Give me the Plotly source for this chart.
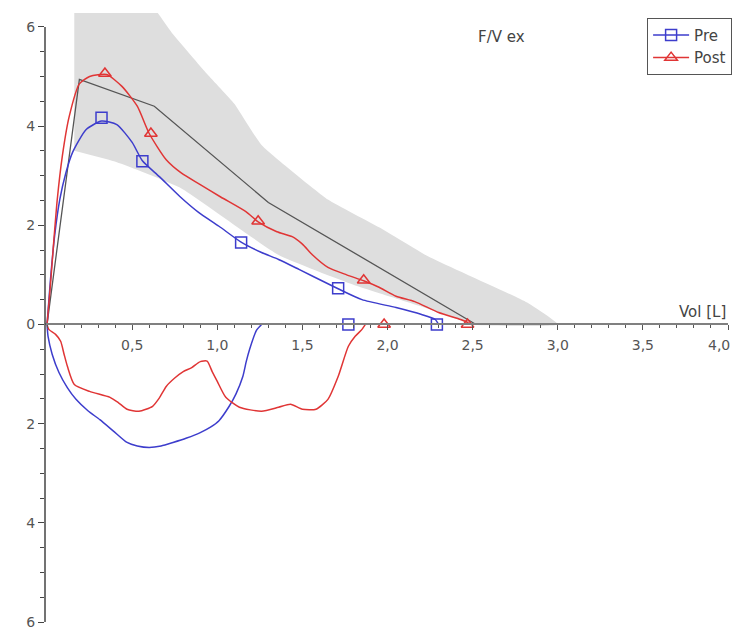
import plotly.graph_objects as go

# ---------------- data ----------------
# predicted normal band (upper and lower boundaries)
band_upper_vol = [0.16, 0.57, 0.74, 0.94, 1.10, 1.26, 1.65, 1.95, 2.24, 2.82, 3.00]
band_upper_flow = [6.6, 6.6, 5.85, 5.05, 4.45, 3.62, 2.52, 1.96, 1.37, 0.44, 0.0]
band_lower_vol = [0.16, 0.41, 0.78, 1.36, 1.80, 2.30, 2.50]
band_lower_flow = [3.50, 3.27, 2.76, 1.40, 0.80, 0.25, 0.0]

# predicted curve
pred_vol = [0, 0.19, 0.63, 1.30, 2.52]
pred_flow = [0, 4.94, 4.40, 2.46, 0]

# Pre: expiratory and inspiratory curve
pre_exp_vol = [0, 0.02, 0.045, 0.075, 0.11, 0.15, 0.23, 0.32, 0.41, 0.50, 0.56, 0.66, 0.78,
               0.89, 1.01, 1.14, 1.26, 1.36, 1.48, 1.65, 1.71, 1.85, 2.05, 2.20, 2.28, 2.30]
pre_exp_flow = [0, 0.9, 1.8, 2.52, 3.05, 3.47, 3.93, 4.10, 4.03, 3.67, 3.30, 2.98, 2.58,
                2.26, 1.98, 1.66, 1.45, 1.31, 1.11, 0.82, 0.72, 0.50, 0.34, 0.20, 0.10, 0.0]
pre_insp_vol = [0, 0.006, 0.03, 0.07, 0.12, 0.17, 0.24, 0.31, 0.39, 0.47, 0.53, 0.60, 0.67,
                0.74, 0.82, 0.90, 0.96, 1.01, 1.07, 1.11, 1.15, 1.17, 1.19, 1.23, 1.26]
pre_insp_flow = [0, -0.24, -0.6, -0.97, -1.28, -1.51, -1.74, -1.92, -2.15, -2.38, -2.45, -2.48,
                 -2.45, -2.38, -2.29, -2.18, -2.07, -1.94, -1.65, -1.40, -1.05, -0.75, -0.50,
                 -0.12, 0]
pre_mark_vol = [0.32, 0.56, 1.14, 1.71, 1.77, 2.29]
pre_mark_flow = [4.17, 3.29, 1.65, 0.73, 0.0, 0.0]

# Post: expiratory and inspiratory curve
post_exp_vol = [0, 0.02, 0.04, 0.06, 0.09, 0.13, 0.19, 0.25, 0.35, 0.44, 0.53, 0.60, 0.70,
                0.79, 0.90, 1.02, 1.17, 1.24, 1.35, 1.44, 1.50, 1.56, 1.65, 1.76, 1.86,
                1.95, 2.05, 2.16, 2.30, 2.43, 2.47, 2.48]
post_exp_flow = [0, 0.8, 1.7, 2.52, 3.40, 4.19, 4.85, 5.00, 5.04, 4.80, 4.40, 3.85, 3.32,
                 3.05, 2.82, 2.57, 2.27, 2.07, 1.87, 1.77, 1.62, 1.40, 1.15, 1.00, 0.88,
                 0.75, 0.57, 0.46, 0.24, 0.10, 0.04, 0.0]
post_insp_vol = [0, 0.01, 0.05, 0.08, 0.10, 0.12, 0.16, 0.25, 0.37, 0.42, 0.47, 0.54, 0.62,
                 0.66, 0.70, 0.75, 0.80, 0.85, 0.90, 0.94, 0.97, 1.00, 1.05, 1.13, 1.26,
                 1.36, 1.43, 1.50, 1.58, 1.65, 1.71, 1.77, 1.81, 1.85, 1.87]
post_insp_flow = [0, -0.10, -0.20, -0.34, -0.60, -0.85, -1.21, -1.35, -1.47, -1.58, -1.71,
                  -1.75, -1.65, -1.48, -1.25, -1.08, -0.95, -0.87, -0.75, -0.74, -0.95, -1.15,
                  -1.47, -1.67, -1.75, -1.67, -1.61, -1.71, -1.71, -1.51, -1.05, -0.44,
                  -0.24, -0.10, 0]
post_mark_vol = [0.34, 0.61, 1.24, 1.86, 1.98, 2.47]
post_mark_flow = [5.06, 3.85, 2.08, 0.89, 0.0, 0.0]

y_tick_vals = [-6, -4, -2, 0, 2, 4, 6]
y_tick_text = ["6", "4", "2", "0", "2", "4", "6"]
x_tick_vals = [0.5, 1.0, 1.5, 2.0, 2.5, 3.0, 3.5, 4.0]
x_tick_text = ["0,5", "1,0", "1,5", "2,0", "2,5", "3,0", "3,5", "4,0"]

BLUE = "#3d3dcc"
RED = "#e03535"
FONT = "DejaVu Sans, Verdana, sans-serif"

# ---------------- figure ----------------
fig = go.Figure()

fig.add_trace(go.Scatter(
    x=band_upper_vol + band_lower_vol[::-1],
    y=band_upper_flow + band_lower_flow[::-1],
    fill="toself", fillcolor="#dedede", line=dict(width=0, shape="spline", smoothing=0.4),
    mode="lines", showlegend=False, hoverinfo="skip"))

fig.add_trace(go.Scatter(x=pred_vol, y=pred_flow, mode="lines",
                         line=dict(color="#555555", width=1.3), showlegend=False))

for vol, flow, col in [(pre_exp_vol, pre_exp_flow, BLUE), (pre_insp_vol, pre_insp_flow, BLUE),
                       (post_exp_vol, post_exp_flow, RED), (post_insp_vol, post_insp_flow, RED)]:
    fig.add_trace(go.Scatter(x=vol, y=flow, mode="lines",
                             line=dict(color=col, width=1.5, shape="spline", smoothing=0.6),
                             showlegend=False))

fig.add_trace(go.Scatter(x=pre_mark_vol, y=pre_mark_flow, mode="markers",
                         marker=dict(symbol="square-open", size=11, color=BLUE, line=dict(width=1.5)),
                         showlegend=False, cliponaxis=False))
fig.add_trace(go.Scatter(x=post_mark_vol, y=post_mark_flow, mode="markers",
                         marker=dict(symbol="triangle-up-open", size=11, color=RED, line=dict(width=1.5)),
                         showlegend=False, cliponaxis=False))

# legend entries
fig.add_trace(go.Scatter(x=[None], y=[None], mode="lines+markers", name="Pre",
                         line=dict(color=BLUE, width=1.5),
                         marker=dict(symbol="square-open", size=11, color=BLUE, line=dict(width=1.5))))
fig.add_trace(go.Scatter(x=[None], y=[None], mode="lines+markers", name="Post",
                         line=dict(color=RED, width=1.5),
                         marker=dict(symbol="triangle-up-open", size=11, color=RED, line=dict(width=1.5))))

# the last x label is drawn right-aligned to its tick so it stays inside the page
axis_labels = x_tick_text[:-1] + [""]

y_lo, y_hi = -6.0, 6.28
fig.update_layout(
    width=734, height=622,
    margin=dict(l=37, r=14, t=5, b=8),
    paper_bgcolor="white", plot_bgcolor="white",
    font=dict(family=FONT, size=14, color="#555555"),
    showlegend=True,
    legend=dict(x=1.006, y=0.992, xanchor="right", yanchor="top",
                bordercolor="#555555", borderwidth=1, bgcolor="white",
                font=dict(size=15, color="#444444"), tracegroupgap=0,
                itemwidth=36),
    xaxis=dict(range=[-0.012, 4.0], anchor="free", position=(0 - y_lo) / (y_hi - y_lo),
               showgrid=False, zeroline=False, showline=True, linecolor="#808080", linewidth=2,
               tickmode="array", tickvals=x_tick_vals, ticktext=axis_labels,
               ticks="outside", ticklen=5, tickcolor="#555555", tickwidth=1,
               tickfont=dict(size=14, color="#555555"), ticklabelstandoff=3,
               ticklabeloverflow="allow",
               minor=dict(tickmode="linear", tick0=0, dtick=0.1, ticks="outside", ticklen=3,
                          tickcolor="#555555", showgrid=False),
               automargin=False),
    yaxis=dict(range=[y_lo, y_hi], showgrid=False, zeroline=False, showline=False,
               tickmode="array", tickvals=y_tick_vals, ticktext=y_tick_text,
               ticks="outside", ticklen=6, tickcolor="#444444", tickwidth=1.2,
               tickfont=dict(size=14, color="#555555"), ticklabeloverflow="allow",
               minor=dict(tickmode="linear", tick0=0, dtick=0.5, ticks="outside", ticklen=4,
                          tickcolor="#444444", showgrid=False),
               automargin=False),
    shapes=[dict(type="line", xref="paper", yref="y", x0=0, x1=0, y0=y_lo, y1=6,
                 line=dict(color="#444444", width=1.5))],
    annotations=[
        dict(text="F/V ex", xref="paper", yref="paper", x=0.669, y=0.961, xanchor="center",
             yanchor="middle", showarrow=False, font=dict(size=15, color="#444444")),
        dict(text="Vol [L]", xref="x", yref="y", x=4.0, y=0, xanchor="right", yanchor="bottom",
             yshift=1, showarrow=False, font=dict(size=15, color="#444444")),
        dict(text=x_tick_text[-1], xref="x", yref="y", x=x_tick_vals[-1], y=0,
             xanchor="right", yanchor="top", xshift=4, yshift=-11, showarrow=False,
             font=dict(size=14, color="#555555")),
    ],
)

fig.write_html("out.html")
